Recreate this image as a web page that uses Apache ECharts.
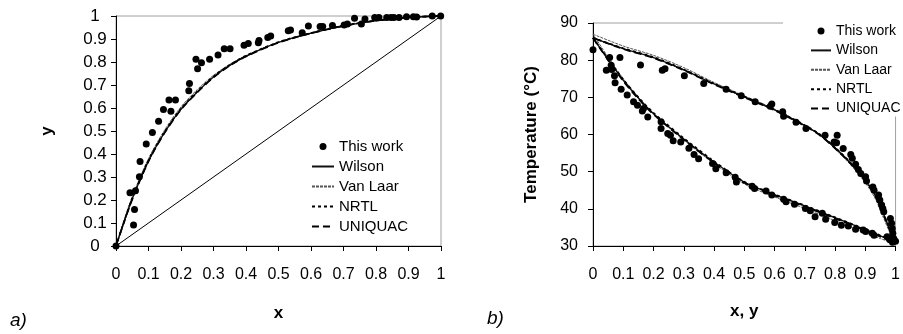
<!DOCTYPE html>
<html>
<head>
<meta charset="utf-8">
<script src="https://cdn.jsdelivr.net/npm/echarts@6/dist/echarts.min.js"></script>
<style>
  html, body { margin: 0; padding: 0; background: #fff; }
  #diagram { width: 903px; height: 334px; }
</style>
</head>
<body>
<div id="diagram"></div>
<script>
// legend names
let legendNames = ['This work', 'Wilson', 'Van Laar', 'NRTL', 'UNIQUAC'];

// a) x-y data (this work)
let expX = [0, 0.043, 0.054, 0.057, 0.060, 0.072, 0.074, 0.093, 0.112, 0.131, 0.146, 0.163, 0.169, 0.183,
    0.224, 0.226, 0.246, 0.251, 0.263, 0.288, 0.314, 0.333, 0.351, 0.394, 0.407, 0.438, 0.440, 0.467, 0.476,
    0.530, 0.537, 0.573, 0.592, 0.628, 0.636, 0.666, 0.702, 0.712, 0.734, 0.755, 0.766, 0.796, 0.809, 0.833,
    0.846, 0.855, 0.871, 0.894, 0.915, 0.925, 0.973, 0.999];
let expY = [0, 0.232, 0.091, 0.159, 0.240, 0.301, 0.367, 0.443, 0.493, 0.542, 0.593, 0.635, 0.586, 0.635,
    0.675, 0.707, 0.812, 0.771, 0.797, 0.812, 0.830, 0.858, 0.858, 0.873, 0.880, 0.884, 0.893, 0.907, 0.913,
    0.936, 0.939, 0.927, 0.957, 0.954, 0.954, 0.959, 0.961, 0.965, 0.990, 0.965, 0.987, 0.993, 0.993, 0.993,
    0.993, 0.994, 0.994, 0.997, 0.997, 0.996, 1.0, 1.0];

// a) model curves
let modelX = [0, 0.02, 0.05, 0.1, 0.15, 0.2, 0.25, 0.3, 0.35, 0.4, 0.5, 0.6, 0.7, 0.8, 0.9, 1];
let wilsonY = [0, 0.085, 0.205, 0.37, 0.495, 0.595, 0.67, 0.735, 0.785, 0.825, 0.885, 0.925, 0.957, 0.98, 0.994, 1];
let vanLaarY = [0, 0.09, 0.215, 0.38, 0.505, 0.605, 0.68, 0.742, 0.79, 0.828, 0.886, 0.925, 0.956, 0.979, 0.993, 1];
let nrtlY = [0, 0.086, 0.207, 0.372, 0.497, 0.597, 0.672, 0.737, 0.787, 0.827, 0.886, 0.926, 0.958, 0.98, 0.994, 1];
let uniquacY = [0, 0.084, 0.203, 0.368, 0.493, 0.593, 0.668, 0.733, 0.784, 0.824, 0.884, 0.925, 0.957, 0.98, 0.994, 1];
let diagX = [0, 1];

// b) T-x-y data (this work)
let bubX = [0, 0.044, 0.055, 0.060, 0.062, 0.071, 0.073, 0.093, 0.113, 0.134, 0.147, 0.163, 0.167, 0.181,
    0.225, 0.225, 0.247, 0.256, 0.265, 0.290, 0.317, 0.334, 0.349, 0.395, 0.406, 0.440, 0.470, 0.474,
    0.526, 0.534, 0.572, 0.591, 0.630, 0.638, 0.666, 0.702, 0.718, 0.734, 0.758, 0.769, 0.799, 0.821,
    0.844, 0.868, 0.893, 0.901, 0.923, 0.929, 0.972, 0.983, 1.0];
let bubT = [82.8, 77.3, 80.7, 78.6, 77.5, 75.8, 73.9, 72.2, 70.6, 68.8, 67.9, 66.3, 67.0, 64.7,
    63.4, 61.6, 60.3, 59.8, 58.3, 58.0, 56.3, 54.6, 53.5, 52.2, 50.8, 49.7, 48.5, 47.2,
    46.1, 45.5, 44.8, 43.7, 42.6, 41.9, 41.2, 40.1, 39.5, 37.9, 38.8, 37.2, 36.3, 35.6,
    35.4, 34.5, 34.3, 33.9, 33.4, 32.9, 32.5, 31.6, 31.3];
let dewY = [0.089, 0.157, 0.229, 0.238, 0.302, 0.366, 0.440, 0.490, 0.536, 0.586, 0.591, 0.627, 0.630,
    0.671, 0.704, 0.767, 0.797, 0.805, 0.807, 0.827, 0.852, 0.857, 0.868, 0.877, 0.885, 0.901, 0.904,
    0.925, 0.929, 0.944, 0.948, 0.954, 0.958, 0.961, 0.983, 0.987, 0.989, 0.991, 0.994, 0.980, 0.990];
let dewT = [80.7, 78.7, 77.3, 77.7, 75.8, 73.7, 72.2, 70.4, 68.8, 67.6, 68.2, 66.1, 64.9,
    63.3, 61.6, 59.8, 58.0, 57.8, 59.8, 56.2, 54.6, 53.6, 52.0, 50.6, 49.5, 48.6, 47.5,
    45.9, 45.0, 43.7, 42.4, 41.0, 40.1, 39.2, 37.4, 36.1, 34.7, 33.4, 32.0, 31.8, 31.0];

// b) model curves
let bubModelX = [0, 0.05, 0.1, 0.15, 0.2, 0.3, 0.4, 0.5, 0.6, 0.7, 0.8, 0.9, 0.95, 1];
let wilsonBubT = [86, 80.2, 74.6, 69.8, 65.6, 58.8, 52.6, 47.2, 43.8, 40.8, 37.6, 34.4, 32.7, 31];
let vanLaarBubT = [87, 80.8, 75.0, 70.0, 65.6, 58.5, 52.2, 46.7, 43.2, 40.1, 36.8, 33.6, 32.0, 30.6];
let nrtlBubT = [86, 80.3, 74.8, 70.0, 65.8, 59.0, 52.8, 47.3, 43.9, 40.9, 37.7, 34.5, 32.8, 31];
let uniquacBubT = [86, 80.0, 74.4, 69.6, 65.4, 58.6, 52.4, 47.0, 43.6, 40.6, 37.4, 34.2, 32.5, 31];
let dewModelX = [0, 0.1, 0.2, 0.3, 0.4, 0.5, 0.6, 0.7, 0.75, 0.8, 0.85, 0.9, 0.93, 0.96, 0.98, 1];
let wilsonDewT = [86, 83.1, 80.7, 77.4, 73.6, 70.1, 66.6, 62.4, 59.9, 56.4, 52.4, 47.6, 44.0, 38.6, 34.6, 31];
let vanLaarDewT = [87, 83.8, 81.3, 78.0, 74.0, 70.4, 66.8, 62.4, 59.8, 56.2, 52.0, 47.0, 43.2, 37.6, 33.8, 30.6];
let nrtlDewT = [86, 83.2, 80.8, 77.5, 73.7, 70.2, 66.7, 62.5, 60.0, 56.5, 52.5, 47.7, 44.1, 38.7, 34.7, 31];
let uniquacDewT = [86, 83.0, 80.6, 77.3, 73.5, 70.0, 66.5, 62.3, 59.8, 56.3, 52.3, 47.5, 43.9, 38.5, 34.5, 31];

function pairs(xs, ys) {
    return xs.map((v, i) => [v, ys[i]]);
}

let diagram = document.getElementById('diagram');
let myDiagram = echarts.init(diagram);

let font = 'Liberation Sans, Arial, sans-serif';

let styles = {
    'Wilson': { color: '#111', width: 1.4, type: 'solid' },
    'Van Laar': { color: '#555', width: 1, type: [3, 1] },
    'NRTL': { color: '#000', width: 1.8, type: [3, 3] },
    'UNIQUAC': { color: '#000', width: 1.8, type: [7, 4] }
};

function modelLine(name, data, idx) {
    return {
        name: name,
        type: 'line',
        xAxisIndex: idx,
        yAxisIndex: idx,
        data: data,
        smooth: 0.3,
        symbol: 'none',
        color: styles[name].color,
        lineStyle: styles[name],
        z: idx === 1 ? 5 : 2
    };
}

function expPoints(data, idx) {
    return {
        name: 'This work',
        type: 'scatter',
        xAxisIndex: idx,
        yAxisIndex: idx,
        data: data,
        symbol: 'circle',
        symbolSize: 7,
        color: '#000',
        itemStyle: { color: '#000', opacity: 1 },
        z: 6
    };
}

function valueAxis(idx, min, max, interval, name, gap, label) {
    return {
        gridIndex: idx,
        type: 'value',
        min: min,
        max: max,
        interval: interval,
        name: name,
        nameLocation: 'middle',
        nameGap: gap,
        nameTextStyle: { fontFamily: font, fontSize: 17, fontWeight: 'bold', color: '#000' },
        axisLine: { show: true, lineStyle: { color: '#000', width: 1 } },
        axisTick: { show: true, length: 5, lineStyle: { color: '#000' } },
        axisLabel: Object.assign({ fontFamily: font, fontSize: 16, color: '#000' }, label),
        splitLine: { show: false }
    };
}

function legendFor(left, top, padding, width, size, gap) {
    return {
        orient: 'vertical',
        left: left,
        top: top,
        padding: padding,
        itemWidth: width,
        itemHeight: 7,
        itemGap: gap,
        backgroundColor: '#fff',
        data: legendNames.map(n => n === 'This work'
            ? { name: n, itemStyle: { color: '#000', opacity: 1 } }
            : { name: n, itemStyle: { opacity: 0 } }),
        textStyle: { fontFamily: font, fontSize: size, color: '#000' },
        selectedMode: false
    };
}

let option = {
    animation: false,
    backgroundColor: '#fff',
    title: [
        { text: 'a)', left: 10, top: 311, padding: 0,
          textStyle: { fontFamily: font, fontSize: 19, fontStyle: 'italic', fontWeight: 'normal', color: '#000' } },
        { text: 'b)', left: 487, top: 309, padding: 0,
          textStyle: { fontFamily: font, fontSize: 19, fontStyle: 'italic', fontWeight: 'normal', color: '#000' } }
    ],
    grid: [
        { left: 116, top: 16, width: 325, height: 230, show: true, borderColor: '#a0a0a0', borderWidth: 1 },
        { left: 593, top: 23, width: 304, height: 223, show: true, borderColor: '#a0a0a0', borderWidth: 1 }
    ],
    legend: [
        legendFor(311, 139, 0, 22, 15, 5),
        legendFor(783, 17, [7, 10, 1, 27], 20, 14, 5.4)
    ],
    xAxis: [
        valueAxis(0, 0, 1, 0.1, 'x', 59, { margin: 21 }),
        valueAxis(1, 0, 1, 0.1, 'x, y', 57, { margin: 21 })
    ],
    yAxis: [
        valueAxis(0, 0, 1, 0.1, 'y', 60, { margin: 21, align: 'center', fontSize: 17 }),
        valueAxis(1, 30, 90, 10, 'Temperature (°C)', 53, { margin: 15 })
    ],
    series: [
        {
            name: 'diagonal',
            type: 'line',
            xAxisIndex: 0,
            yAxisIndex: 0,
            data: pairs(diagX, diagX),
            symbol: 'none',
            silent: true,
            lineStyle: { color: '#000', width: 1 }
        },
        modelLine('Van Laar', pairs(modelX, vanLaarY), 0),
        modelLine('Wilson', pairs(modelX, wilsonY), 0),
        modelLine('NRTL', pairs(modelX, nrtlY), 0),
        modelLine('UNIQUAC', pairs(modelX, uniquacY), 0),
        expPoints(pairs(expX, expY), 0),
        modelLine('Van Laar', pairs(bubModelX, vanLaarBubT), 1),
        modelLine('Van Laar', pairs(dewModelX, vanLaarDewT), 1),
        modelLine('Wilson', pairs(bubModelX, wilsonBubT), 1),
        modelLine('Wilson', pairs(dewModelX, wilsonDewT), 1),
        modelLine('NRTL', pairs(bubModelX, nrtlBubT), 1),
        modelLine('NRTL', pairs(dewModelX, nrtlDewT), 1),
        modelLine('UNIQUAC', pairs(bubModelX, uniquacBubT), 1),
        modelLine('UNIQUAC', pairs(dewModelX, uniquacDewT), 1),
        expPoints(pairs(bubX, bubT).concat(pairs(dewY, dewT)), 1)
    ]
};

myDiagram.setOption(option);
</script>
</body>
</html>
